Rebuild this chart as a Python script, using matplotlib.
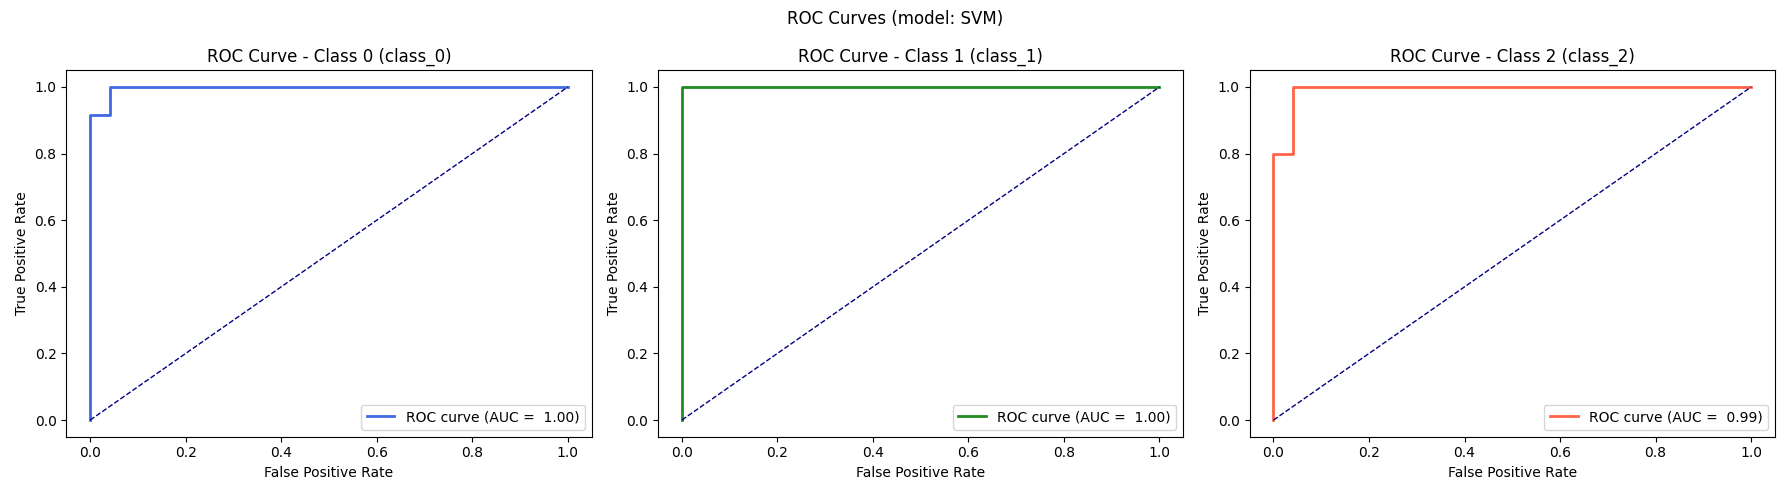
import matplotlib
matplotlib.use("Agg")
import matplotlib.pyplot as plt

model_name = "SVM"
class_names = ["class_0", "class_1", "class_2"]
colors = ["royalblue", "forestgreen", "tomato"]

# step points
fpr_0 = [0.0, 0.0, 0.0, 0.0417, 0.0417, 1.0]
tpr_0 = [0.0, 0.0833, 0.9167, 0.9167, 1.0, 1.0]
fpr_1 = [0.0, 0.0, 0.0, 1.0]
tpr_1 = [0.0, 0.05, 1.0, 1.0]
fpr_2 = [0.0, 0.0, 0.0, 0.04, 0.04, 1.0]
tpr_2 = [0.0, 0.1, 0.8, 0.8, 1.0, 1.0]

fprs = [fpr_0, fpr_1, fpr_2]
tprs = [tpr_0, tpr_1, tpr_2]


def auc(x, y):
    total = 0.0
    for i in range(1, len(x)):
        total += (x[i] - x[i - 1]) * (y[i] + y[i - 1]) / 2
    return total


fig, axes = plt.subplots(1, 3, figsize=(17.9, 4.95), dpi=100)

for i, ax in enumerate(axes):
    score = auc(fprs[i], tprs[i])
    ax.plot(fprs[i], tprs[i], color=colors[i], lw=2,
            label='ROC curve (AUC = %5.2f)' % score)
    ax.plot([0, 1], [0, 1], color='navy', lw=1, linestyle='--')
    ax.set_xlabel('False Positive Rate')
    ax.set_ylabel('True Positive Rate')
    ax.set_title('ROC Curve - Class %d (%s)' % (i, class_names[i]))
    ax.legend(loc='lower right')

fig.suptitle('ROC Curves (model: %s)' % model_name)
fig.tight_layout()
fig.savefig('out.png')
